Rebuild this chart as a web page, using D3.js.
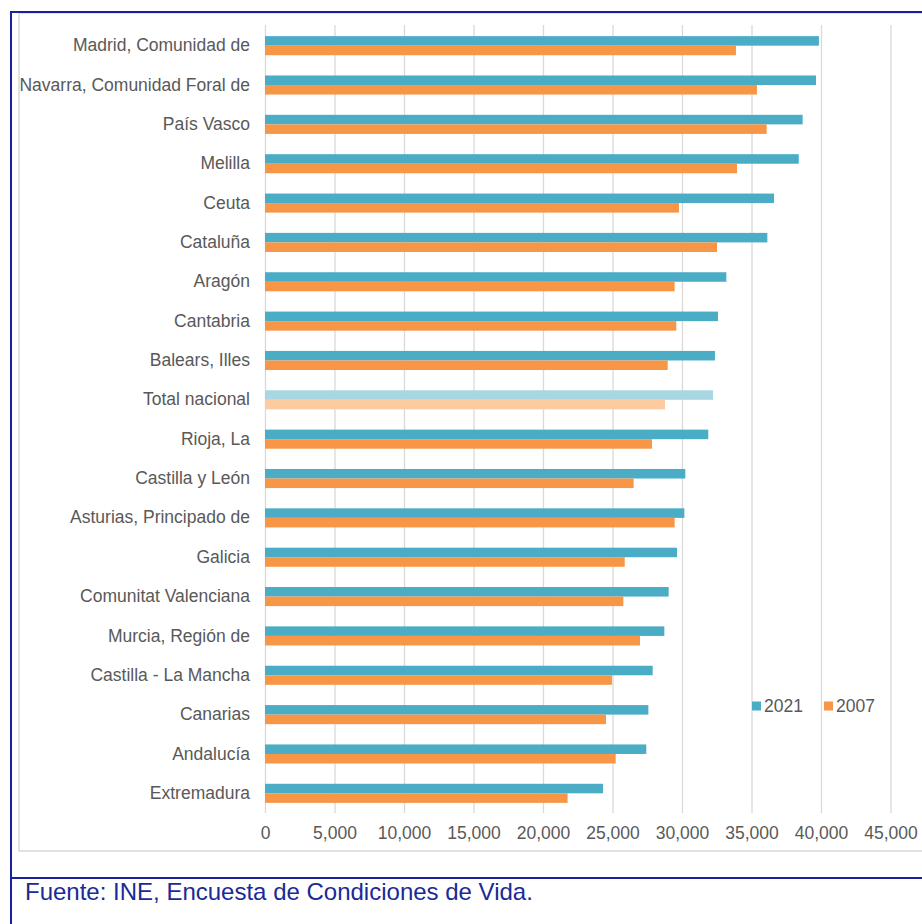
<!DOCTYPE html>
<html>
<head>
<meta charset="utf-8">
<script src="https://cdn.jsdelivr.net/npm/d3@7"></script>
<style>
  html, body { margin: 0; padding: 0; background: #ffffff; }
  svg { display: block; font-family: "Liberation Sans", Arial, sans-serif; }
</style>
</head>
<body>
<svg id="chart" width="922" height="924"></svg>
<script>
const categories = [
  "Madrid, Comunidad de", "Navarra, Comunidad Foral de", "País Vasco", "Melilla", "Ceuta",
  "Cataluña", "Aragón", "Cantabria", "Balears, Illes", "Total nacional",
  "Rioja, La", "Castilla y León", "Asturias, Principado de", "Galicia", "Comunitat Valenciana",
  "Murcia, Región de", "Castilla - La Mancha", "Canarias", "Andalucía", "Extremadura"
];
const values2021 = [39850, 39640, 38680, 38400, 36620, 36140, 33190, 32590, 32370, 32230,
  31890, 30240, 30170, 29640, 29040, 28730, 27890, 27580, 27430, 24320];
const values2007 = [33880, 35390, 36090, 33960, 29780, 32520, 29470, 29590, 28970, 28780,
  27840, 26520, 29470, 25880, 25780, 26980, 24960, 24530, 25230, 21770];
const seriesNames = ["2021", "2007"];
const xTicks = [0, 5000, 10000, 15000, 20000, 25000, 30000, 35000, 40000, 45000];
const highlight = "Total nacional";
const sourceText = "Fuente: INE, Encuesta de Condiciones de Vida.";

const colors = { "2021": "#4bacc6", "2007": "#f79646" };
const lightColors = { "2021": "#a8d6e3", "2007": "#fccb9f" };

const svg = d3.select("#chart");

// frames
svg.append("rect").attr("x", 19).attr("y", 13).attr("width", 960).attr("height", 838)
  .attr("fill", "#fff").attr("stroke", "#d9d9d9").attr("stroke-width", 1.5);
svg.append("line").attr("x1", 10).attr("x2", 922).attr("y1", 12).attr("y2", 12)
  .attr("stroke", "#1a1f9c").attr("stroke-width", 2);
svg.append("line").attr("x1", 11).attr("x2", 11).attr("y1", 11).attr("y2", 924)
  .attr("stroke", "#1a1f9c").attr("stroke-width", 2);
svg.append("line").attr("x1", 10).attr("x2", 922).attr("y1", 878).attr("y2", 878)
  .attr("stroke", "#1a1f9c").attr("stroke-width", 2);

const plotLeft = 265, plotRight = 890.5, plotTop = 26, plotBottom = 813;
const x = d3.scaleLinear().domain([0, 45000]).range([plotLeft, plotRight]);
const y = d3.scaleBand().domain(categories).range([plotTop, plotBottom]).paddingInner(0.515).paddingOuter(0.2575);
const ys = d3.scaleBand().domain(seriesNames).range([0, y.bandwidth()]);

// gridlines
const grid = svg.append("g").attr("transform", `translate(0,${plotBottom})`)
  .call(d3.axisBottom(x).tickValues(xTicks).tickSize(-(plotBottom - plotTop + 1)).tickFormat(""));
grid.select(".domain").remove();
grid.selectAll("line").attr("stroke", "#d9d9d9").attr("stroke-width", 1.3);

// bars
const data = [];
categories.forEach((c, i) => {
  data.push({ cat: c, s: "2021", v: values2021[i] });
  data.push({ cat: c, s: "2007", v: values2007[i] });
});
svg.append("g").selectAll("rect").data(data).join("rect")
  .attr("x", x(0))
  .attr("y", d => y(d.cat) + ys(d.s))
  .attr("width", d => x(d.v) - x(0))
  .attr("height", ys.bandwidth())
  .attr("fill", d => d.cat === highlight ? lightColors[d.s] : colors[d.s]);

// category axis
const yAxis = svg.append("g").attr("transform", `translate(${plotLeft},0)`)
  .call(d3.axisLeft(y).tickSize(0).tickPadding(15));
yAxis.select(".domain").remove();
yAxis.selectAll("text").attr("font-size", 17.5).attr("fill", "#595959")
  .attr("font-family", "Liberation Sans, Arial, sans-serif");

// x axis labels
const xAxis = svg.append("g").attr("transform", `translate(0,${plotBottom})`)
  .call(d3.axisBottom(x).tickValues(xTicks).tickSize(0).tickPadding(14).tickFormat(d3.format(",")));
xAxis.select(".domain").remove();
xAxis.selectAll("text").attr("font-size", 17.5).attr("fill", "#595959")
  .attr("font-family", "Liberation Sans, Arial, sans-serif");

// legend
const legendPos = [752, 824];
const lg = svg.append("g").selectAll("g").data(seriesNames).join("g")
  .attr("transform", (d, i) => `translate(${legendPos[i]},706)`);
lg.append("rect").attr("x", 0).attr("y", -4.5).attr("width", 9).attr("height", 9)
  .attr("fill", d => colors[d]);
lg.append("text").attr("x", 12).attr("y", 0).attr("dy", "0.35em")
  .attr("font-size", 17.5).attr("fill", "#595959").text(d => d);

// source
svg.append("text").attr("x", 25).attr("y", 900).attr("font-size", 24)
  .attr("fill", "#1a2a96").text(sourceText);
</script>
</body>
</html>
